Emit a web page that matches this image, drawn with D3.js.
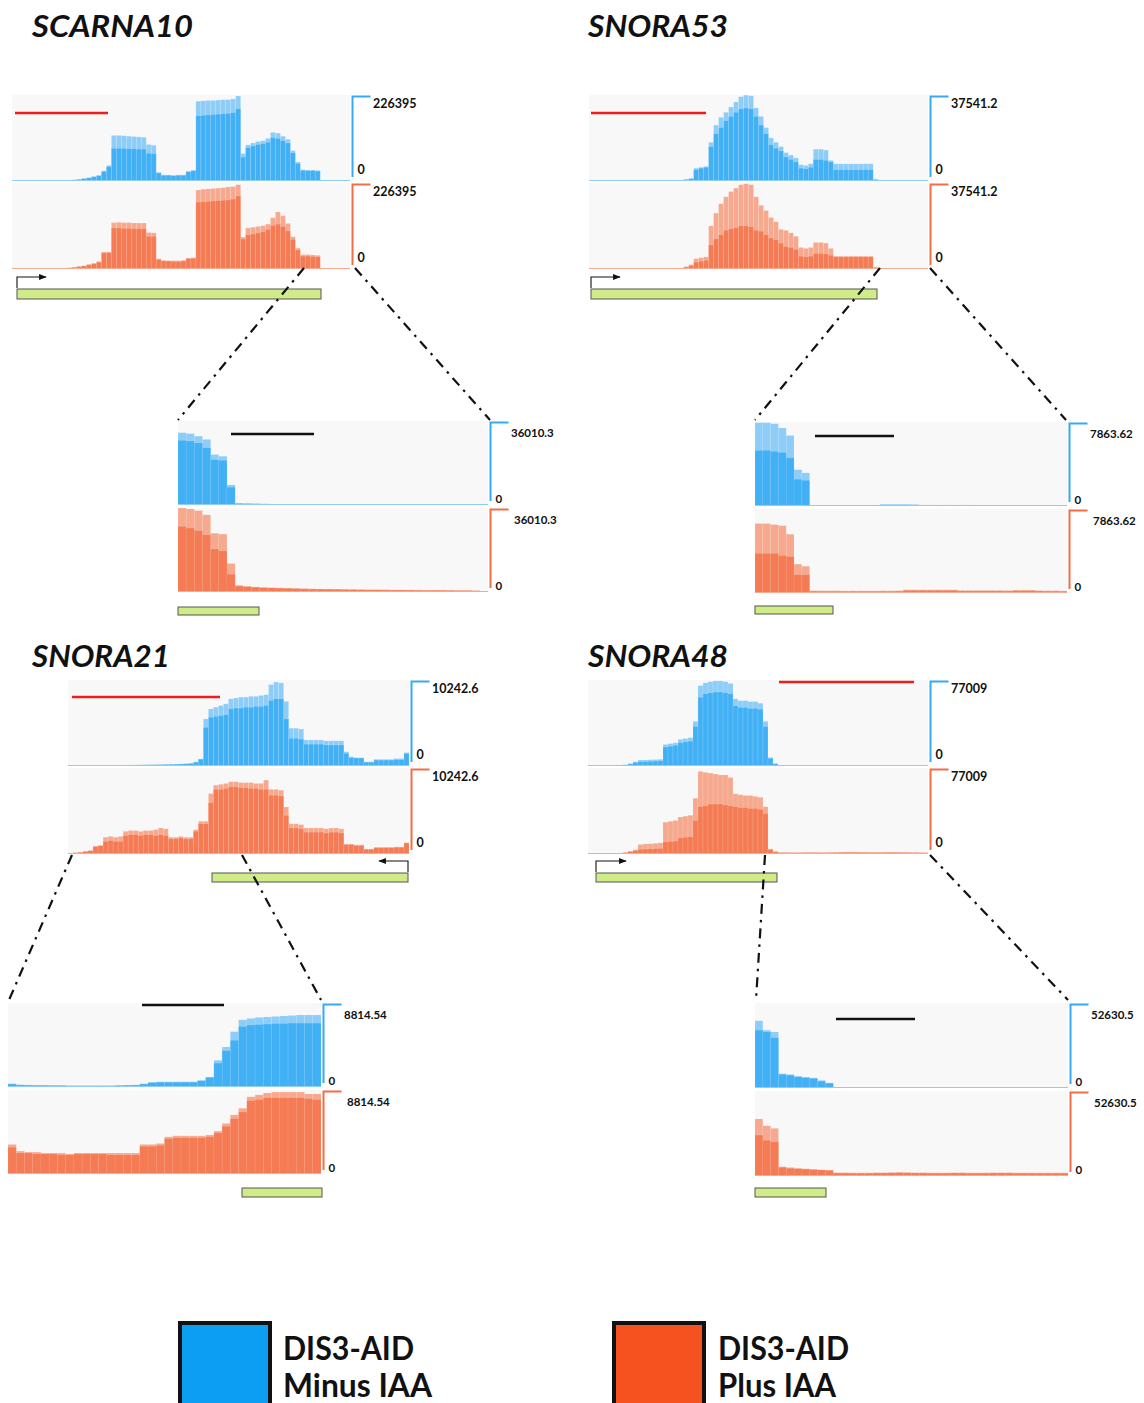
<!DOCTYPE html>
<html>
<head>
<meta charset="utf-8">
<script src="https://cdn.jsdelivr.net/npm/d3@7"></script>
<style>
  body { margin: 0; background: #fff; }
  text { font-family: Lato, "Open Sans", sans-serif; }
</style>
</head>
<body>
<svg id="fig" width="1144" height="1403"></svg>
<script>
// ---- coverage per bin, in thousands of reads (two replicates per condition) ----
const geneNames = ["SCARNA10", "SNORA53", "SNORA21", "SNORA48"];
const mainScaleMax = [226395, 37541.2, 10242.6, 77009];
const zoomScaleMax = [36010.3, 7863.62, 8814.54, 52630.5];
const legendLabels = [["DIS3-AID", "Minus IAA"], ["DIS3-AID", "Plus IAA"]];

// SCARNA10, full locus (68 bins)
const scarna10MinusA = [0,0,0,0,0,0,0,0,0,0, 1,2,3,5,7,9,12,15, 27,41, 120,120,119,118,117,116,115, 96,94, 23, 16,16,15,16,16, 26,28, 210,211,212,212,213,214,214,216,224, 72, 95,100,104,106,112,128,126,118,110, 80,50, 30,29,29,28, 0,0,0,0,0,0];
const scarna10MinusB = [0,0,0,0,0,0,0,0,0,0, 1,2,3,4,6,8,11,14, 25,38, 86,86,86,85,85,84,84, 73,72, 21, 15,15,14,15,15, 24,27, 172,173,174,175,176,177,178,180,190, 63, 88,92,96,98,102,114,112,106,100, 74,46, 28,27,27,26, 0,0,0,0,0,0];
const scarna10PlusA = [0,0,0,0,0,0,0,0,0,1, 2,3,5,7,9,12,15,20, 45,45, 122,123,122,122,121,121,121, 96,95, 27, 23,22,22,22,23, 29,30, 208,210,211,212,213,214,216,217,222, 84, 108,110,112,114,118,135,150,140,120, 85,55, 38,38,37,36, 2,2,2,2,1,1];
const scarna10PlusB = [0,0,0,0,0,0,0,0,0,1, 2,3,4,6,8,11,14,18, 42,43, 108,108,107,107,106,106,106, 86,86, 25, 21,21,20,20,21, 27,28, 176,177,178,179,180,181,182,184,192, 79, 90,92,95,98,104,115,118,112,100, 78,50, 34,34,33,32, 2,2,2,1,1,1];

// SCARNA10, 3' end (38 bins)
const scarna10ZoomMinusA = [31.0,30.6,29.5,28.1,21.6,20.9,8.6, 0.8,0.7,0.6,0.5,0.45,0.4,0.38,0.36,0.34,0.32, 0.3,0.3,0.28,0.28,0.26,0.26,0.25,0.25,0.24,0.24, 0.23,0.23,0.22,0.22,0.21,0.21,0.2,0.2,0.18,0.15, 0.1];
const scarna10ZoomMinusB = [27.7,27.4,26.6,24.5,19.4,19.1,7.6, 0.6,0.55,0.5,0.45,0.4,0.35,0.33,0.31,0.3,0.28, 0.27,0.26,0.25,0.24,0.23,0.22,0.21,0.21,0.2,0.2, 0.19,0.19,0.18,0.18,0.17,0.17,0.16,0.16,0.15,0.12, 0.08];
const scarna10ZoomPlusA = [36.0,35.6,34.9,33.1,25.2,24.8,12.2, 2.9,2.5,2.2,2.0,1.9,1.8,1.7,1.6,1.5,1.4, 1.3,1.3,1.2,1.2,1.1,1.1,1.0,1.0,1.0,0.9, 0.9,0.9,0.9,0.8,0.8,0.8,0.8,0.7,0.7,0.6, 0.3];
const scarna10ZoomPlusB = [28.1,27.4,26.3,24.5,18.4,17.6,7.6, 2.5,2.2,2.0,1.8,1.7,1.6,1.5,1.4,1.3,1.2, 1.2,1.1,1.1,1.0,1.0,0.9,0.9,0.9,0.8,0.8, 0.8,0.8,0.7,0.7,0.7,0.7,0.6,0.6,0.6,0.5, 0.2];

// SNORA53, full locus (68 bins)
const snora53MinusA = [0,0,0,0,0,0,0,0,0,0,0,0,0,0,0,0,0,0, 0.4,0.8,1.1, 5.6,6.0,6.4, 16.9, 24.4,27.8, 30.0,32.3,34.5, 36.8,37.5,37.2, 31.9,28.2,23.3, 18.8,16.9,15.0, 12.4,11.3,10.1, 7.1,6.8,7.5, 13.9,13.9,13.5,9.0, 7.5,7.5,7.5,7.5,7.5,7.5,7.5,7.5, 0.8, 0.1,0.1,0.1,0.1,0.1,0.1,0.1,0.1,0.1,0.1];
const snora53MinusB = [0,0,0,0,0,0,0,0,0,0,0,0,0,0,0,0,0,0, 0.3,0.6,1.0, 4.9,5.6,6.0, 15.0, 20.6,23.3, 26.3,28.2,30.0, 31.5,31.9,31.5, 28.2,24.4,20.6, 15.8,14.3,13.1, 10.5,9.4,8.3, 5.6,5.3,6.0, 9.4,9.4,9.0,8.3, 4.9,4.9,4.9,4.9,4.9,4.9,4.9,4.9, 0.6, 0.08,0.08,0.08,0.08,0.08,0.08,0.08,0.08,0.08,0.08];
const snora53PlusA = [0,0,0,0,0,0,0,0,0,0,0,0,0,0,0,0,0,0, 0.4,1.1,1.9, 4.5,4.9,5.3, 18.8,24.4,28.5, 31.5,33.8,35.3, 36.8,37.2,36.8, 31.5,27.8,25.5, 22.5,20.6,17.3, 16.9,15.8,14.3, 9.4,9.0,9.4, 11.6,11.6,11.3,9.0, 5.6,5.6,5.6,5.6,5.6,5.6,5.6,5.6, 0.8, 0.3,0.3,0.3,0.3,0.3,0.3,0.3,0.3,0.3,0.3];
const snora53PlusB = [0,0,0,0,0,0,0,0,0,0,0,0,0,0,0,0,0,0, 0.3,0.8,1.5, 3.0,3.4,3.8, 10.5,13.1,15.0, 16.9,17.6,18.0, 18.8,18.8,18.4, 16.9,16.5,15.0, 13.5,12.8,11.3, 9.8,9.4,8.6, 5.6,5.3,5.6, 6.8,6.8,6.6,6.0, 5.3,5.3,5.3,5.3,5.3,5.3,5.3,5.3, 0.6, 0.2,0.2,0.2,0.2,0.2,0.2,0.2,0.2,0.2,0.2];

// SNORA53, 3' end (40 bins)
const snora53ZoomMinusA = [7.8,7.8,7.7,7.3,6.6,3.4,3.1, 0.08,0.08,0.07,0.07,0.07,0.07,0.07,0.07,0.08, 0.15,0.15,0.15,0.15,0.14, 0.1,0.1,0.1,0.1,0.1,0.1,0.1,0.09,0.09,0.09,0.09,0.08,0.08,0.08,0.08,0.07,0.07,0.06,0.05];
const snora53ZoomMinusB = [5.2,5.2,5.1,5.0,4.5,2.5,2.4, 0.06,0.06,0.05,0.05,0.05,0.05,0.05,0.05,0.06, 0.11,0.11,0.11,0.11,0.1, 0.08,0.08,0.08,0.08,0.08,0.08,0.08,0.07,0.07,0.07,0.07,0.06,0.06,0.06,0.06,0.05,0.05,0.05,0.04];
const snora53ZoomPlusA = [6.5,6.5,6.4,6.3,5.5,2.7,2.5, 0.22,0.21,0.21,0.21,0.2,0.2,0.2,0.2,0.2, 0.21,0.21,0.22, 0.3,0.3,0.3,0.3,0.3,0.3,0.3, 0.24,0.24,0.24,0.24,0.24,0.24,0.23,0.27,0.27,0.27, 0.23,0.22,0.22,0.2];
const snora53ZoomPlusB = [3.7,3.7,3.7,3.5,3.4,1.7,1.7, 0.17,0.16,0.16,0.16,0.15,0.15,0.15,0.15,0.15, 0.16,0.16,0.17, 0.24,0.24,0.24,0.24,0.24,0.24,0.24, 0.19,0.19,0.19,0.19,0.19,0.19,0.18,0.21,0.21,0.21, 0.18,0.17,0.17,0.15];

// SNORA21, full locus (68 bins)
const snora21MinusA = [0.02,0.03,0.03,0.04,0.05,0.06,0.06,0.07,0.08,0.09, 0.1,0.11,0.12,0.13,0.14,0.15,0.16,0.17,0.18,0.2, 0.21,0.23,0.25,0.28,0.32, 0.5,0.85, 5.6, 6.8,7.0,7.2,7.4, 8.0,8.1,8.2,8.2,8.3,8.3,8.4,8.5, 9.7,10.0,9.9, 7.7, 4.5,4.5,4.4, 3.1,3.1,3.1,3.1,3.0,3.0,3.0,3.0, 1.7, 1.1,1.0,1.0, 0.5,0.5, 0.8,0.8,0.8,0.8,0.9,0.9, 1.6];
const snora21MinusB = [0.02,0.02,0.03,0.03,0.04,0.05,0.05,0.06,0.07,0.08, 0.09,0.1,0.11,0.12,0.13,0.13,0.14,0.15,0.16,0.18, 0.19,0.21,0.23,0.26,0.3, 0.45,0.8, 4.6, 5.8,5.9,6.0,6.1, 6.8,6.9,6.9,7.0,7.0,7.1,7.1,7.2, 7.8,8.0,8.0, 5.6, 3.3,3.3,3.2, 2.6,2.6,2.6,2.6,2.5,2.5,2.5,2.5, 1.5, 1.0,0.95,0.95, 0.45,0.45, 0.7,0.7,0.7,0.7,0.75,0.75, 1.5];
const snora21PlusA = [0.1,0.15,0.2,0.3,0.4, 0.9,1.0, 2.0,2.1,2.0,2.1, 2.7,2.8,2.8,2.7,2.8,2.8,2.9, 3.1,3.0, 2.0,2.0,2.1,2.0,2.0, 2.9, 3.9,3.9, 7.2, 8.2,8.3,8.4, 8.6,8.6,8.5,8.5,8.5,8.4,8.4,8.8, 7.7,7.7,7.6, 5.6, 3.6,3.6,3.5, 3.1,3.1,3.1,3.1,3.0,3.1,3.1,3.0, 1.2,1.2,1.1,1.1, 0.6,0.6, 0.8,0.8,0.8,0.8,0.85,0.85, 1.35];
const snora21PlusB = [0.1,0.15,0.2,0.3,0.4, 0.9,1.0, 1.5,1.6,1.5,1.5, 2.2,2.3,2.3,2.2,2.3,2.3,2.2, 2.3,2.2, 1.8,1.8,1.9,1.8,1.8, 2.7, 3.6,3.6, 6.1, 7.7,7.7,7.8, 8.0,8.0,7.9,7.9,7.8,7.8,7.7,7.7, 7.0,7.0,6.9, 4.6, 3.1,3.1,3.0, 2.6,2.6,2.6,2.6,2.5,2.6,2.6,2.5, 1.1,1.1,1.0,1.0, 0.55,0.55, 0.75,0.75,0.75,0.75,0.8,0.8, 1.3];

// SNORA21, 3' end (38 bins)
const snora21ZoomMinusA = [0.35,0.25,0.22,0.2,0.2,0.18,0.18,0.15,0.15,0.15, 0.15,0.15,0.15,0.18,0.2,0.22,0.35,0.5,0.55,0.55, 0.55,0.55,0.55,0.7,1.05,2.8,4.2,5.8,7.05,7.2, 7.3,7.35,7.4,7.45,7.5,7.55,7.55,7.55];
const snora21ZoomMinusB = [0.3,0.2,0.18,0.16,0.16,0.15,0.15,0.12,0.12,0.12, 0.12,0.12,0.12,0.15,0.18,0.2,0.3,0.45,0.5,0.5, 0.5,0.5,0.5,0.65,1.0,2.5,3.8,4.9,6.35,6.5, 6.55,6.6,6.65,6.65,6.7,6.7,6.7,6.7];
const snora21ZoomPlusA = [3.1,2.4,2.3,2.3,2.2,2.2,2.2,2.1,2.2,2.2, 2.2,2.2,2.2,2.2,2.2,2.2,3.1,3.1,3.2,3.9, 4.0,4.0,4.0,4.0,4.1,4.5,5.3,6.2,6.9,8.1, 8.3,8.5,8.6,8.6,8.6,8.6,8.4,8.4];
const snora21ZoomPlusB = [2.8,2.2,2.2,2.1,2.1,2.1,2.0,2.0,2.1,2.1, 2.1,2.1,2.0,2.0,2.0,2.0,2.9,2.9,3.0,3.7, 3.8,3.8,3.8,3.8,3.9,4.3,5.0,5.8,6.5,7.7, 7.8,8.0,8.0,8.0,8.0,8.0,7.9,7.8];

// SNORA48, full locus (68 bins)
const snora48MinusA = [0,0,0,0.15,0.3,0.5,0.8,1.2, 2.3,3.9, 5.4,5.4,5.6,5.8,6.0, 19.3,20.0,20.8, 23.9,24.6,25.4,40.0, 72.0,74.5,75.5,76.2,76.2,75.5,73.9, 60.1,58.5,58.5,57.7,57.7,56.2, 40.0, 7.7,2.3, 0.2,0.2,0.2,0.2,0.2,0.2,0.2,0.2,0.2,0.2, 0.2,0.2,0.2,0.2,0.2,0.2,0.2,0.2,0.2,0.2, 0.2,0.2,0.2,0.2,0.2,0.2,0.2,0.2,0.2,0.2];
const snora48MinusB = [0,0,0,0.1,0.25,0.4,0.6,1.0, 1.8,3.1, 3.9,4.0,4.2,4.4,4.6, 17.0,17.7,18.5, 20.8,21.6,22.3,35.4, 61.6,64.7,65.5,66.2,66.2,65.5,64.7, 53.9,52.4,52.4,51.6,51.6,50.8, 35.4, 6.9,1.9, 0.15,0.15,0.15,0.15,0.15,0.15,0.15,0.15,0.15,0.15, 0.15,0.15,0.15,0.15,0.15,0.15,0.15,0.15,0.15,0.15, 0.15,0.15,0.15,0.15,0.15,0.15,0.15,0.15,0.15,0.15];
const snora48PlusA = [0,0,0,0.15,0.3,0.5,0.9,1.5, 2.7,3.9, 8.5,9.0,9.2,9.6,10.0, 28.5,29.3,30.0, 33.1,33.9,34.7,50.0, 73.9,73.1,72.4,71.6,70.8,70.8,68.5, 53.9,53.1,52.4,52.4,51.6,50.8, 42.4, 4.6,2.3, 1.5,1.5,1.4,1.4,1.4,1.5,1.5,1.5,1.4,1.4, 1.5,1.6,1.7,1.8,1.8,1.8,1.7,1.7,1.6,1.6, 1.6,1.7,1.7,1.7,1.6,1.6,1.5,1.5,1.4,1.2];
const snora48PlusB = [0,0,0,0.1,0.25,0.4,0.7,1.2, 2.0,3.0, 4.2,4.4,4.6,4.8,5.0, 10.8,11.2,11.6, 14.6,15.0,15.4,30.0, 42.4,43.1,44.7,44.7,44.7,43.9,43.1, 42.4,41.6,41.6,40.8,40.8,40.0, 36.2, 3.9,2.0, 1.2,1.2,1.1,1.1,1.1,1.2,1.2,1.2,1.1,1.1, 1.2,1.3,1.4,1.5,1.5,1.5,1.4,1.4,1.3,1.3, 1.3,1.4,1.4,1.4,1.3,1.3,1.2,1.2,1.1,1.0];

// SNORA48, 3' end (40 bins)
const snora48ZoomMinusA = [41.6,35.8,34.7,8.9,8.4,7.4,6.8,6.3,4.7,3.2, 0.5,0.5,0.5,0.45,0.45,0.4,0.4,0.4,0.4,0.4, 0.35,0.35,0.35,0.35,0.35,0.3,0.3,0.3,0.3,0.3, 0.3,0.3,0.3,0.3,0.3,0.3,0.3,0.3,0.3,0.3];
const snora48ZoomMinusB = [35.8,34.7,31.1,8.4,7.9,6.8,6.3,5.8,4.2,2.9, 0.4,0.4,0.4,0.35,0.35,0.3,0.3,0.3,0.3,0.3, 0.28,0.28,0.28,0.28,0.28,0.25,0.25,0.25,0.25,0.25, 0.25,0.25,0.25,0.25,0.25,0.25,0.25,0.25,0.25,0.25];
const snora48ZoomPlusA = [35.3,31.1,29.5,5.8,5.3,4.7,4.5,4.2,3.9,3.7, 2.1,2.1,2.0,2.0,2.0,2.1,2.1,2.2,2.3,2.2, 2.1,2.1,2.0,2.0,2.0,2.1,2.1,2.0,2.0,2.0, 2.1,2.1,2.1,2.0,2.0,2.0,2.0,2.0,2.0,2.0];
const snora48ZoomPlusB = [25.3,22.1,21.1,5.3,4.7,4.5,4.2,3.9,3.7,3.4, 1.8,1.8,1.7,1.7,1.7,1.8,1.8,1.9,2.0,1.9, 1.8,1.8,1.7,1.7,1.7,1.8,1.8,1.7,1.7,1.7, 1.8,1.8,1.8,1.7,1.7,1.7,1.7,1.7,1.7,1.7];

// ---- page layout (pixels) ----
const colors = {
  minus: { light: "#8dcdf8", dark: "#42b0f5", axis: "#35a9f4" },
  plus:  { light: "#f6a98e", dark: "#f47b53", axis: "#f26e46" }
};
const legendFill = ["#0b9ef2", "#f5521f"];

const mainPanels = [
  { x: 12,  y: 95,  w: 338, h: 86, gap: 2, zeroDy: -7, labelDy: 13, plusDx: 0, dense: true,
    title: { x: 32, y: 37, len: 161 },
    scaleBar: { x1: 15, x2: 108, y: 113, color: "#ee1c1c" },
    gene: { x1: 17, x2: 321, y: 289, h: 10 }, tss: { x: 17, y0: 288, y1: 277, dx: 29 },
    links: [[304, 268, 178, 420], [355, 268, 490, 420]] },
  { x: 589, y: 95,  w: 339, h: 86, gap: 2, zeroDy: -7, labelDy: 13, plusDx: 0, dense: true,
    title: { x: 588, y: 37, len: 140 },
    scaleBar: { x1: 591, x2: 706, y: 113, color: "#ee1c1c" },
    gene: { x1: 591, x2: 877, y: 289, h: 10 }, tss: { x: 591, y0: 288, y1: 277, dx: 29 },
    links: [[880, 268, 755, 420], [930, 268, 1066, 420]] },
  { x: 68,  y: 680, w: 341, h: 86, gap: 2, zeroDy: -7, labelDy: 13, plusDx: 0, dense: true,
    title: { x: 32, y: 667, len: 138 },
    scaleBar: { x1: 72, x2: 220, y: 697, color: "#ee1c1c" },
    gene: { x1: 212, x2: 408, y: 873, h: 9 }, tss: { x: 408, y0: 872, y1: 861, dx: -29 },
    links: [[72, 855, 9, 1000], [242, 855, 321, 1000]] },
  { x: 588, y: 680, w: 340, h: 86, gap: 2, zeroDy: -7, labelDy: 13, plusDx: 0, dense: true,
    title: { x: 588, y: 667, len: 140 },
    scaleBar: { x1: 779, x2: 914, y: 682, color: "#ee1c1c" },
    gene: { x1: 596, x2: 777, y: 873, h: 9 }, tss: { x: 596, y0: 872, y1: 861, dx: 30 },
    links: [[765, 855, 756, 1000], [930, 855, 1068, 1000]] }
];
const zoomPanels = [
  { x: 178, y: 421, w: 310, h: 84, gap: 3, zeroDy: -2, labelDy: 16, plusDx: 3, dense: false,
    scaleBar: { x1: 231, x2: 314, y: 434, color: "#111" }, gene: { x1: 178, x2: 259, y: 607, h: 8 } },
  { x: 755, y: 422, w: 312, h: 84, gap: 3, zeroDy: -2, labelDy: 16, plusDx: 3, dense: false,
    scaleBar: { x1: 815, x2: 894, y: 436, color: "#111" }, gene: { x1: 755, x2: 833, y: 606, h: 8 } },
  { x: 8,   y: 1003, w: 313, h: 84, gap: 3, zeroDy: -2, labelDy: 16, plusDx: 3, dense: false,
    scaleBar: { x1: 142, x2: 224, y: 1005, color: "#111" }, gene: { x1: 242, x2: 322, y: 1188, h: 9 } },
  { x: 755, y: 1003, w: 313, h: 85, gap: 3, zeroDy: -2, labelDy: 16, plusDx: 3, dense: false,
    scaleBar: { x1: 836, x2: 915, y: 1019, color: "#111" }, gene: { x1: 755, x2: 826, y: 1188, h: 9 } }
];

const mainData = [
  [scarna10MinusA, scarna10MinusB, scarna10PlusA, scarna10PlusB],
  [snora53MinusA, snora53MinusB, snora53PlusA, snora53PlusB],
  [snora21MinusA, snora21MinusB, snora21PlusA, snora21PlusB],
  [snora48MinusA, snora48MinusB, snora48PlusA, snora48PlusB]
];
const zoomData = [
  [scarna10ZoomMinusA, scarna10ZoomMinusB, scarna10ZoomPlusA, scarna10ZoomPlusB],
  [snora53ZoomMinusA, snora53ZoomMinusB, snora53ZoomPlusA, snora53ZoomPlusB],
  [snora21ZoomMinusA, snora21ZoomMinusB, snora21ZoomPlusA, snora21ZoomPlusB],
  [snora48ZoomMinusA, snora48ZoomMinusB, snora48ZoomPlusA, snora48ZoomPlusB]
];

const svg = d3.select("#fig");
svg.append("rect").attr("width", 1144).attr("height", 1403).attr("fill", "#fff");

const layerTracks = svg.append("g");
const layerMarks = svg.append("g");

// one coverage track: replicate maximum in the light tint, replicate minimum in the dark tint
function drawTrack(p, top, repA, repB, maxValue, c, labelSize, labelDx) {
  const n = repA.length;
  const x = d3.scaleLinear().domain([0, n]).range([p.x, p.x + p.w]);
  const y = d3.scaleLinear().domain([0, maxValue / 1000]).range([top + p.h, top]);
  const g = layerTracks.append("g");

  g.append("rect").attr("x", p.x).attr("y", top).attr("width", p.w).attr("height", p.h)
    .attr("fill", "#f8f8f8");

  const hi = repA.map((v, i) => Math.max(v, repB[i]));
  const lo = repA.map((v, i) => Math.min(v, repB[i]));
  [[hi, c.light], [lo, c.dark]].forEach(([vals, fill]) => {
    g.append("g").selectAll("rect").data(vals).join("rect")
      .attr("x", (d, i) => x(i))
      .attr("width", (d, i) => x(i + 1) - x(i))
      .attr("y", d => y(d))
      .attr("height", d => y(0) - y(d))
      .attr("fill", fill)
      .attr("stroke", p.dense ? "rgba(255,255,255,0.22)" : "rgba(255,255,255,0.12)")
      .attr("stroke-width", 0.6);
  });
  g.append("line").attr("x1", p.x).attr("x2", p.x + p.w).attr("y1", y(0) - 0.5).attr("y2", y(0) - 0.5)
    .attr("stroke", c.light).attr("stroke-width", 1);

  // data-range bracket and its labels
  const bx = p.x + p.w + 2.5;
  g.append("path")
    .attr("d", `M${bx + 18},${top + 1.5}H${bx}V${top + p.h - 4}`)
    .attr("fill", "none").attr("stroke", c.axis).attr("stroke-width", 2);
  g.append("text").attr("x", bx + 20.5 + labelDx).attr("y", top + p.labelDy)
    .attr("font-size", labelSize).attr("font-weight", 700).attr("fill", "#111")
    .text(String(maxValue));
  g.append("text").attr("x", bx + 5).attr("y", top + p.h + p.zeroDy)
    .attr("font-size", labelSize).attr("font-weight", 700).attr("fill", "#111")
    .text("0");
}

function drawPanel(p, reps, maxValue, labelSize) {
  drawTrack(p, p.y, reps[0], reps[1], maxValue, colors.minus, labelSize, 0);
  drawTrack(p, p.y + p.h + p.gap, reps[2], reps[3], maxValue, colors.plus, labelSize, p.plusDx);

  layerMarks.append("line")
    .attr("x1", p.scaleBar.x1).attr("x2", p.scaleBar.x2)
    .attr("y1", p.scaleBar.y).attr("y2", p.scaleBar.y)
    .attr("stroke", p.scaleBar.color).attr("stroke-width", 2.6);

  layerMarks.append("rect")
    .attr("x", p.gene.x1).attr("y", p.gene.y)
    .attr("width", p.gene.x2 - p.gene.x1).attr("height", p.gene.h)
    .attr("fill", "#cfec88").attr("stroke", "#555").attr("stroke-width", 1);
}

const defs = svg.append("defs");
defs.append("marker").attr("id", "tssHead")
  .attr("viewBox", "0 0 10 10").attr("refX", 9).attr("refY", 5)
  .attr("markerWidth", 7).attr("markerHeight", 7).attr("orient", "auto")
  .append("path").attr("d", "M0,1L10,5L0,9Z").attr("fill", "#111");

mainPanels.forEach((p, i) => drawPanel(p, mainData[i], mainScaleMax[i], 12.5));
zoomPanels.forEach((p, i) => drawPanel(p, zoomData[i], zoomScaleMax[i], 11.5));

mainPanels.forEach((p, i) => {
  // transcription start arrow
  layerMarks.append("path")
    .attr("d", `M${p.tss.x},${p.tss.y0}V${p.tss.y1}H${p.tss.x + p.tss.dx}`)
    .attr("fill", "none").attr("stroke", "#111").attr("stroke-width", 1.1)
    .attr("marker-end", "url(#tssHead)");

  // dash-dot guides to the 3' close-up
  p.links.forEach(([x1, y1, x2, y2]) => {
    layerMarks.append("line")
      .attr("x1", x1).attr("y1", y1).attr("x2", x2).attr("y2", y2)
      .attr("stroke", "#111").attr("stroke-width", 2.2)
      .attr("stroke-dasharray", "10,6,2.5,6");
  });

  layerMarks.append("text")
    .attr("x", p.title.x).attr("y", p.title.y)
    .attr("font-size", 31).attr("font-weight", 700).attr("font-style", "italic")
    .attr("textLength", p.title.len).attr("lengthAdjust", "spacingAndGlyphs")
    .attr("fill", "#111")
    .text(geneNames[i]);
});

// legend
const legendPos = [{ x: 180, tx: 283, len1: 131, len2: 149 }, { x: 614, tx: 718, len1: 131, len2: 118 }];
legendLabels.forEach((lines, i) => {
  const L = legendPos[i];
  layerMarks.append("rect")
    .attr("x", L.x).attr("y", 1323).attr("width", 90).attr("height", 110)
    .attr("fill", legendFill[i]).attr("stroke", "#111").attr("stroke-width", 4);
  lines.forEach((t, j) => {
    layerMarks.append("text")
      .attr("x", L.tx).attr("y", 1360 + j * 37)
      .attr("font-size", 33).attr("font-weight", 700).attr("fill", "#111")
      .attr("textLength", j === 0 ? L.len1 : L.len2).attr("lengthAdjust", "spacingAndGlyphs")
      .text(t);
  });
});
</script>
</body>
</html>
